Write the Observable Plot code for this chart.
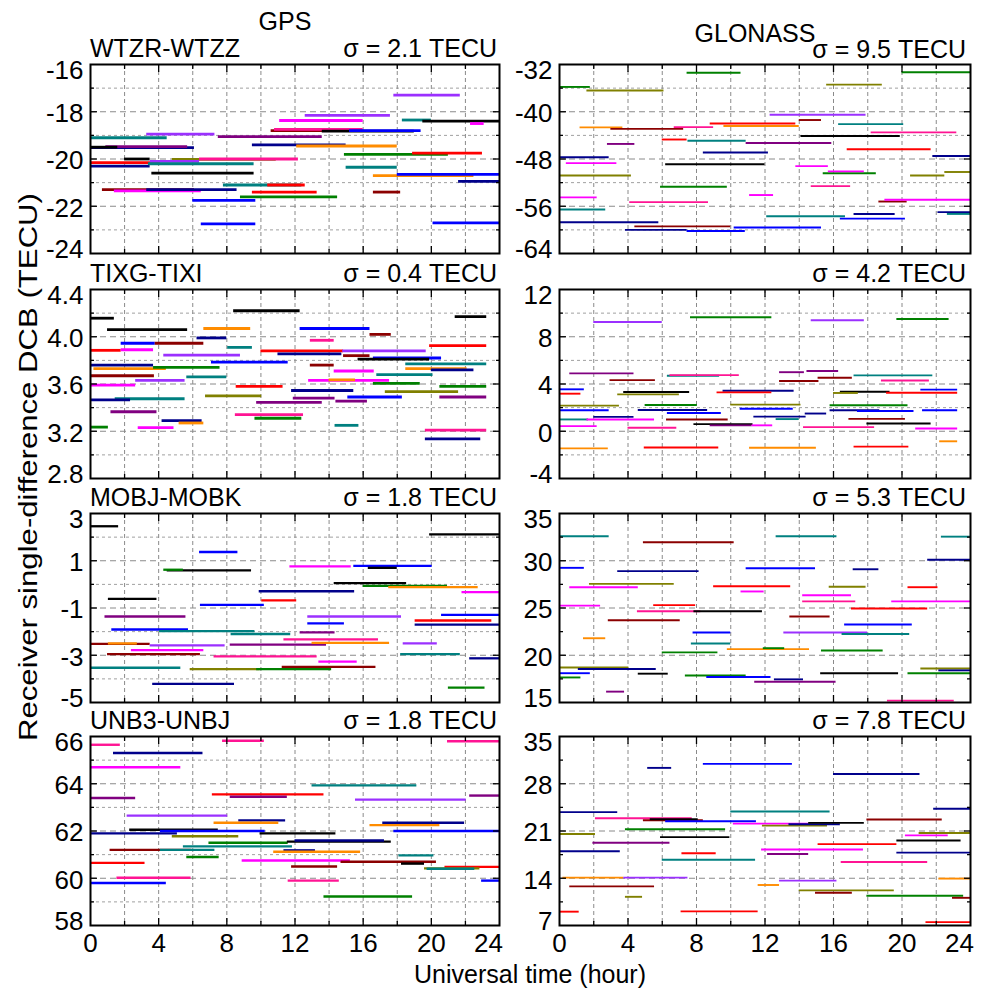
<!DOCTYPE html>
<html><head><meta charset="utf-8">
<script src="https://cdn.jsdelivr.net/npm/d3@7"></script>
<script src="https://cdn.jsdelivr.net/npm/@observablehq/plot@0.6"></script>
<style>
html,body{margin:0;padding:0;background:#fff;}
#fig{position:relative;width:981px;height:988px;overflow:hidden;background:#fff;}
#fig svg{position:absolute;}
</style></head><body><div id="fig"></div>
<script>
// Series keys: 0 red, 1 blue, 2 black, 3 green, 4 magenta, 5 teal, 6 violet,
// 7 orange, 8 maroon, 9 navy, 10 olive, 11 pink, 12 purple
const palette = ["#ff0000","#0000ff","#000000","#008000","#ff00ff","#008080","#9b30ff",
                 "#ff8c00","#8b0000","#00008b","#808000","#ff1493","#800080"];

const hourLabels = [0,4,8,12,16,20,24];
const hourMajor = [4,8,12,16,20];
const hourMinor = [2,6,10,14,18,22];
const hourGrid = [2,4,6,8,10,12,14,16,18,20,22];

// Each arc: [start hour, end hour, DCB value, series key]
const wtzr = [
[17.8,21.7,-17.3,6],[11.1,16.0,-18.37,4],[12.6,17.6,-18.15,6],[18.3,20.0,-18.35,5],
[19.5,24,-18.4,2],[22.3,23.1,-18.5,4],[10.6,13.7,-18.8,8],[10.8,16.0,-18.75,11],
[13.6,19.0,-18.82,2],[15.2,19.4,-18.8,1],[0,4.5,-19.1,5],[3.3,7.3,-18.95,6],
[7.5,13.6,-19.05,12],[9.5,15.0,-19.4,9],[12.1,18.0,-19.45,7],[0,6.1,-19.52,9],
[0.9,5.7,-19.48,12],[0,1.6,-19.5,2],[14.9,21.0,-19.8,3],[18.9,23.0,-19.75,0],
[0,4.1,-20.15,0],[2.0,3.5,-20.0,2],[0,3.5,-20.3,9],[4.8,10.9,-20.02,10],
[3.5,6.4,-20.1,6],[3.4,9.6,-20.2,5],[6.4,12.2,-20.0,11],[15.0,18.0,-20.35,5],
[3.6,9.6,-20.6,2],[16.6,22.5,-20.7,7],[18.0,24,-20.65,1],[21.6,24,-20.95,9],
[7.8,12.4,-21.1,5],[10.4,12.6,-21.1,0],[0.7,6.1,-21.3,8],[1.4,6.5,-21.35,4],
[3.3,8.6,-21.3,9],[9.5,13.3,-21.4,0],[16.6,18.2,-21.4,8],[6.0,9.7,-21.75,1],
[8.8,14.5,-21.6,3],[6.5,9.7,-22.75,1],[20.1,24,-22.7,1]
];
const glo1 = [
[7.45,10.6,-33.4,3],[20.0,24,-33.3,3],[0,1.8,-35.8,3],[1.6,6.1,-36.4,10],
[15.6,18.85,-35.4,10],[12.3,17.9,-40.5,6],[14.0,15.3,-41.4,8],[16.3,20.1,-42.1,5],
[1.2,3.7,-42.65,7],[3.0,7.25,-42.9,8],[6.7,9.0,-42.6,11],[8.8,13.8,-42.0,0],
[9.6,14.0,-42.4,7],[14.1,19.9,-44.1,2],[18.2,23.2,-43.5,11],[6.0,7.45,-44.7,0],
[7.5,10.9,-44.9,5],[10.9,15.9,-45.3,12],[2.8,4.4,-45.45,12],[16.8,21.7,-46.35,0],
[0,2.9,-47.7,9],[8.4,12.2,-46.9,9],[21.8,24,-47.5,9],[0.4,3.35,-48.7,4],
[6.2,12.0,-48.9,2],[13.8,15.7,-49.2,4],[0,4.2,-50.8,10],[15.4,18.5,-50.4,3],
[15.7,17.8,-50.1,4],[20.5,22.5,-50.8,10],[22.5,24,-50.2,10],[5.9,9.8,-52.7,3],
[14.7,17.0,-52.6,11],[11.1,12.5,-54.1,4],[0,2.2,-54.5,4],[4.1,8.7,-55.3,11],
[18.65,20.3,-55.2,8],[19.0,24,-54.9,4],[0,2.7,-56.55,5],[12.1,16.7,-57.7,5],
[17.2,19.6,-57.3,9],[16.4,20.2,-58.1,1],[22.1,24,-57.0,9],[22.65,24,-57.3,5],
[0,5.8,-58.7,9],[4.4,10.0,-59.4,8],[3.85,7.45,-60.0,9],[7.45,10.85,-60.2,1],
[10.2,15.3,-59.6,1]
];
const tixg = [
[0,1.4,4.157,2],[1.0,5.7,4.06,2],[8.4,12.3,4.22,2],[21.4,23.25,4.17,2],
[6.65,9.4,4.07,7],[12.3,16.4,4.07,1],[16.4,17.65,4.02,8],[6.25,8.0,3.99,9],
[12.9,14.3,3.97,11],[1.8,3.8,3.945,1],[3.8,6.65,3.945,8],[8.05,9.5,3.91,5],
[0,1.8,3.885,0],[1.8,3.7,3.89,4],[10.0,14.85,3.88,0],[19.9,23.25,3.925,0],
[11.0,14.75,3.855,9],[4.3,8.8,3.845,6],[14.8,19.7,3.88,6],[14.85,16.4,3.84,8],
[16.6,20.6,3.82,1],[15.7,19.9,3.81,2],[7.1,11.6,3.785,1],[0,3.7,3.76,9],
[12.9,14.3,3.76,8],[18.5,23.25,3.77,5],[0.2,4.45,3.73,7],[3.7,7.6,3.74,3],
[14.3,16.65,3.71,4],[18.5,22.1,3.73,7],[20.0,22.5,3.72,9],[16.8,20.1,3.68,5],
[0,3.75,3.67,8],[5.65,8.0,3.66,5],[2.65,5.55,3.63,6],[12.8,17.55,3.63,4],
[14.0,15.55,3.635,7],[0,2.65,3.59,4],[16.6,19.35,3.605,3],[20.5,23.25,3.58,3],
[8.55,11.3,3.58,0],[6.75,10.05,3.50,10],[17.3,21.6,3.535,10],[11.8,15.45,3.545,9],
[15.1,18.3,3.49,1],[1.45,5.55,3.475,5],[0,2.35,3.465,9],[11.9,14.35,3.48,12],
[9.75,13.6,3.445,12],[14.4,16.25,3.455,12],[20.5,23.25,3.49,12],[1.2,3.9,3.365,12],
[8.5,12.5,3.34,11],[9.65,12.4,3.31,3],[4.2,6.55,3.29,9],[5.2,6.65,3.27,7],
[14.35,15.75,3.25,5],[0,1.05,3.235,3],[2.8,4.9,3.23,4],[19.65,23.25,3.21,11],
[19.65,22.9,3.135,9]
];
const glo2 = [
[2.0,6.0,9.25,6],[7.65,12.4,9.65,3],[14.7,17.8,9.4,6],[19.7,22.75,9.5,3],
[0.6,4.35,4.9,12],[2.95,5.6,4.33,8],[6.3,9.35,4.7,5],[6.45,10.5,4.75,11],
[12.85,14.3,5.0,12],[14.45,16.3,5.1,12],[12.85,15.15,4.25,8],[15.1,17.1,4.53,8],
[17.2,21.8,4.73,5],[18.8,21.6,4.3,11],[0,1.45,3.55,1],[0,1.25,3.18,0],
[3.75,7.6,3.32,2],[3.4,7.0,3.12,10],[9.55,13.7,3.43,9],[9.2,12.4,3.29,0],
[16.4,19.3,3.35,2],[16.0,17.45,3.24,10],[19.1,23.25,3.26,0],[21.1,23.25,3.52,1],
[0,3.5,2.17,10],[5.0,8.05,2.22,3],[10.0,14.1,2.25,10],[15.8,20.35,2.2,3],
[0,2.9,1.78,1],[4.6,8.65,1.8,9],[6.3,9.45,1.55,1],[10.55,13.65,1.9,1],
[14.35,15.6,1.5,9],[15.8,18.7,1.78,9],[17.4,20.7,1.72,1],[21.2,23.25,1.78,1],
[2.0,4.35,1.22,9],[11.35,14.4,1.24,9],[0,1.7,1.0,5],[1.6,5.55,1.0,4],
[6.25,9.85,1.0,8],[12.65,14.0,1.03,5],[16.9,20.2,1.05,8],[7.85,11.3,0.6,2],
[8.8,11.25,0.5,12],[11.25,12.45,0.5,4],[17.95,21.7,0.65,2],[0,2.2,0.43,4],
[4.0,6.85,0.3,11],[14.25,18.4,0.35,11],[20.8,23.25,0.23,4],[0,2.85,-1.45,7],
[4.95,9.3,-1.37,0],[11.1,15.0,-1.4,7],[17.2,20.4,-1.3,0],[22.2,23.25,-0.85,7]
];
const mobj = [
[0,1.65,2.46,2],[19.9,24,2.12,2],[6.4,8.65,1.37,1],[4.5,9.45,0.59,2],
[4.3,5.45,0.62,3],[11.7,15.3,0.76,4],[15.45,20.05,0.78,1],[16.3,18.0,0.7,2],
[14.3,18.55,0.05,2],[16.0,20.95,-0.06,3],[17.5,22.75,-0.12,7],[21.8,24,-0.33,4],
[9.9,15.5,-0.29,9],[1.05,3.9,-0.61,2],[10.05,12.1,-0.68,0],[6.45,10.2,-0.87,1],
[0.85,5.6,-1.36,12],[12.75,18.25,-1.36,6],[20.6,24,-1.29,1],[19.05,23.55,-1.53,0],
[12.75,14.9,-1.65,1],[19.05,24,-1.7,9],[1.25,5.75,-1.91,1],[4.05,9.65,-1.98,5],
[8.25,11.75,-2.1,5],[12.3,14.35,-2.03,12],[11.35,16.9,-2.33,11],[0,3.5,-2.52,8],
[1.05,2.75,-2.5,7],[3.5,7.9,-2.58,6],[8.2,13.85,-2.55,12],[13.0,17.55,-2.48,7],
[18.35,20.35,-2.5,6],[2.4,6.65,-2.78,4],[1.0,6.45,-2.95,8],[7.25,13.3,-3.05,11],
[18.2,21.7,-2.95,5],[22.25,24,-3.13,9],[13.4,15.65,-3.27,4],[0,5.3,-3.53,5],
[5.85,9.95,-3.59,10],[9.75,14.15,-3.59,3],[11.25,16.75,-3.49,8],[3.65,8.45,-4.21,9],
[21.0,23.15,-4.37,3]
];
const glo3 = [
[0,2.9,32.6,5],[4.9,10.2,31.95,8],[12.65,16.2,32.6,5],[22.3,24,32.55,5],
[0,1.45,29.25,1],[3.4,8.15,28.9,9],[10.9,14.95,29.2,1],[17.15,18.65,29.1,9],
[21.5,24,30.1,9],[0.6,4.6,27.2,4],[1.75,6.7,27.55,10],[9.0,13.5,27.3,0],
[10.6,11.95,26.75,4],[14.2,17.05,26.35,4],[15.75,17.9,27.25,10],[20.35,22.1,27.2,0],
[14.2,17.3,25.7,11],[19.4,24,25.7,4],[0,2.4,25.25,4],[5.5,7.95,25.3,0],
[4.55,8.25,24.65,11],[7.85,11.85,24.65,2],[13.45,15.8,24.1,8],[17.05,21.5,24.95,0],
[2.85,7.05,23.7,8],[16.65,20.6,23.25,1],[7.8,10.0,22.4,1],[13.1,18.0,22.4,6],
[16.5,20.45,22.25,5],[7.7,10.0,21.25,5],[1.4,2.7,21.8,7],[9.8,14.6,20.65,7],
[11.9,13.15,20.75,3],[6.0,9.25,20.3,3],[15.3,18.9,20.5,3],[0,4.05,18.7,10],
[1.1,5.65,18.55,9],[0,1.8,18.1,1],[0,1.25,17.65,3],[4.6,6.35,18.05,2],
[7.35,10.9,17.85,3],[8.6,12.35,17.7,1],[12.55,14.25,17.45,9],[11.4,16.15,17.2,12],
[15.25,19.8,18.1,2],[21.1,24,18.6,10],[20.35,24,18.1,3],[22.15,24,18.4,9],
[2.75,3.8,16.15,12],[19.15,23.05,15.2,11]
];
const unb3 = [
[0,1.75,65.65,11],[7.75,10.2,65.82,11],[20.95,24,65.8,11],[1.35,6.6,65.3,9],
[0,5.3,64.7,4],[13.0,19.15,63.93,5],[0,2.65,63.4,12],[7.15,13.7,63.55,0],
[8.2,11.55,63.45,12],[15.55,22.05,63.33,6],[22.25,24,63.5,12],[2.15,8.05,62.65,6],
[8.7,11.45,62.45,9],[7.25,11.05,62.35,7],[17.15,21.95,62.35,9],[16.4,20.5,62.25,7],
[2.3,7.5,62.05,2],[0,5.1,61.9,9],[4.1,10.25,62.0,1],[17.8,24,62.0,1],
[9.95,14.4,61.9,2],[4.8,8.7,61.78,10],[6.95,11.6,61.5,3],[11.55,17.65,61.55,2],
[12.0,17.25,61.6,9],[5.45,11.85,61.35,5],[1.15,5.95,61.2,8],[4.1,7.3,61.2,5],
[11.35,13.2,61.18,9],[10.75,15.85,61.12,7],[5.65,7.55,60.9,3],[18.1,20.15,60.97,5],
[8.9,15.25,60.75,4],[0,3.2,60.65,0],[14.7,20.3,60.7,8],[18.25,19.6,60.62,2],
[11.8,14.5,60.5,8],[20.8,24,60.48,0],[19.6,22.85,60.42,10],[19.75,22.55,60.4,5],
[1.55,5.9,60.02,11],[0,4.45,59.8,1],[11.6,14.6,59.9,11],[22.95,24,59.9,1],
[13.7,18.9,59.23,3]
];
const glo4 = [
[5.15,6.55,30.35,9],[8.4,13.6,30.95,1],[16.0,21.05,29.45,9],[0,3.4,23.8,9],
[10.0,15.8,23.9,5],[21.85,24,24.3,9],[2.1,7.75,22.9,11],[4.9,8.4,22.6,8],
[5.3,8.1,22.75,2],[6.2,11.5,22.45,1],[10.15,14.55,22.1,4],[11.85,15.65,21.8,10],
[13.4,16.4,22.0,9],[14.55,17.8,22.2,2],[17.95,22.35,22.7,8],[3.85,9.7,21.25,3],
[0,2.1,20.55,10],[5.9,9.95,20.1,2],[20.2,22.7,20.35,4],[21.0,24,20.7,10],
[19.7,23.45,19.6,2],[1.95,6.45,19.25,12],[15.1,19.7,19.05,0],[0,3.55,18.0,9],
[7.15,9.15,17.7,0],[11.8,17.75,18.25,4],[12.15,14.55,17.6,12],[19.7,24,17.8,9],
[6.0,11.45,16.75,5],[16.45,21.5,16.4,11],[0.2,3.75,14.1,7],[3.75,7.5,14.1,6],
[22.15,24,13.95,7],[12.85,16.2,13.65,6],[0.6,5.55,12.8,8],[11.6,12.85,13.0,7],
[14.0,19.55,12.2,10],[14.95,17.1,11.85,8],[17.95,23.6,11.4,3],[22.95,24,11.1,8],
[3.85,4.85,11.25,10],[0,1.15,9.05,0],[7.1,11.6,9.1,0],[21.4,24,7.5,0]
];

// Tick values per panel
const wtzrMajor = [-24,-22,-20,-18,-16], wtzrMinor = [-23,-21,-19,-17];
const glo1Major = [-64,-56,-48,-40,-32], glo1Minor = [-60,-52,-44,-36];
const tixgMajor = [2.8,3.2,3.6,4.0,4.4], tixgMinor = [3.0,3.4,3.8,4.2];
const glo2Major = [-4,0,4,8,12], glo2Minor = [-2,2,6,10];
const mobjMajor = [-5,-3,-1,1,3], mobjMinor = [-4,-2,0,2];
const glo3Major = [15,20,25,30,35], glo3Minor = [17.5,22.5,27.5,32.5];
const unb3Major = [58,60,62,64,66], unb3Minor = [59,61,63,65];
const glo4Major = [7,14,21,28,35], glo4Minor = [10.5,17.5,24.5,31.5];

const titles = [
  ["WTZR-WTZZ","σ = 2.1 TECU","σ = 9.5 TECU"],
  ["TIXG-TIXI","σ = 0.4 TECU","σ = 4.2 TECU"],
  ["MOBJ-MOBK","σ = 1.8 TECU","σ = 5.3 TECU"],
  ["UNB3-UNBJ","σ = 1.8 TECU","σ = 7.8 TECU"]
];

const FONT = '"Liberation Sans", Arial, Helvetica, sans-serif';
const fig = document.getElementById("fig");
const rowTop = [64, 289, 513, 736];
const PH = 189;
const colLeft = [90, 559], colW = [409, 411];
const TICKFS = 26;

function panel({data, major, minor, minorGrid, fmt, col, row, sw}) {
  const bottom = row === 3;
  const ml = 64, mr = 14, mt = 10, mb = bottom ? 50 : 10;
  const lo = major[0], hi = major[major.length - 1];
  const inner = major.slice(1, -1);
  const noText = () => "";
  const tickOpts = {tickFormat: noText, label: null, stroke: "#000", strokeWidth: 1.3};
  const lab = {tickSize: 0, label: null, fill: "#000", fontSize: TICKFS};
  const marks = [
    minorGrid ? Plot.ruleY(minor, {stroke: "#a0a0a0", strokeDasharray: "3,3", strokeWidth: 1}) : null,
    Plot.ruleY(inner, {stroke: "#8a8a8a", strokeDasharray: "6,4", strokeWidth: 1}),
    Plot.ruleX(hourGrid, {stroke: "#8a8a8a", strokeDasharray: "4,3", strokeWidth: 1}),
    Plot.ruleY(data, {x1: d => d[0], x2: d => d[1], y: d => d[2], stroke: d => d[3], strokeWidth: sw}),
    Plot.axisY(inner, {anchor: "left", tickSize: -7, ...tickOpts}),
    Plot.axisY(inner, {anchor: "right", tickSize: -7, ...tickOpts}),
    Plot.axisY(minor, {anchor: "left", tickSize: -4, ...tickOpts}),
    Plot.axisY(minor, {anchor: "right", tickSize: -4, ...tickOpts}),
    Plot.axisX(hourMajor, {anchor: "top", tickSize: -7, ...tickOpts}),
    Plot.axisX(hourMinor, {anchor: "top", tickSize: -4, ...tickOpts}),
    Plot.axisX(hourMajor, {anchor: "bottom", tickSize: -7, ...tickOpts}),
    Plot.axisX(hourMinor, {anchor: "bottom", tickSize: -4, ...tickOpts}),
    Plot.axisY(inner, {anchor: "left", tickPadding: 7, tickFormat: fmt, dy: 2, ...lab}),
    Plot.axisY([hi], {anchor: "left", tickPadding: 7, tickFormat: fmt, dy: 6, ...lab}),
    Plot.axisY([lo], {anchor: "left", tickPadding: 7, tickFormat: fmt, dy: -4, ...lab}),
    bottom ? Plot.axisX(hourLabels.slice(0, -1), {anchor: "bottom", tickPadding: 8, ...lab}) : null,
    bottom ? Plot.axisX([24], {anchor: "bottom", tickPadding: 8, dx: -11, ...lab}) : null,
    Plot.frame({stroke: "#000", strokeWidth: 2})
  ];
  const svg = Plot.plot({
    width: ml + colW[col] + mr,
    height: mt + PH + mb,
    marginLeft: ml, marginRight: mr, marginTop: mt, marginBottom: mb,
    x: {domain: [0, 24]},
    y: {domain: [lo, hi]},
    color: {type: "ordinal", domain: palette.map((_, i) => i), range: palette},
    style: {fontFamily: FONT, fontSize: TICKFS + "px", background: "transparent", overflow: "visible", color: "#000"},
    marks
  });
  svg.style.left = (colLeft[col] - ml) + "px";
  svg.style.top = (rowTop[row] - mt) + "px";
  svg.style.maxWidth = "none";
  fig.appendChild(svg);
}

const f1 = d3.format(".1f"), fi = d => String(d);
panel({data: wtzr, major: wtzrMajor, minor: wtzrMinor, minorGrid: true, fmt: fi, col: 0, row: 0, sw: 2.8});
panel({data: glo1, major: glo1Major, minor: glo1Minor, minorGrid: true, fmt: fi, col: 1, row: 0, sw: 1.9});
panel({data: tixg, major: tixgMajor, minor: tixgMinor, minorGrid: true, fmt: f1, col: 0, row: 1, sw: 2.8});
panel({data: glo2, major: glo2Major, minor: glo2Minor, minorGrid: true, fmt: fi, col: 1, row: 1, sw: 1.9});
panel({data: mobj, major: mobjMajor, minor: mobjMinor, minorGrid: true, fmt: fi, col: 0, row: 2, sw: 2.3});
panel({data: glo3, major: glo3Major, minor: glo3Minor, minorGrid: false, fmt: fi, col: 1, row: 2, sw: 1.9});
panel({data: unb3, major: unb3Major, minor: unb3Minor, minorGrid: true, fmt: fi, col: 0, row: 3, sw: 2.4});
panel({data: glo4, major: glo4Major, minor: glo4Minor, minorGrid: false, fmt: fi, col: 1, row: 3, sw: 1.9});

// Text overlay
const ns = "http://www.w3.org/2000/svg";
const ov = document.createElementNS(ns, "svg");
ov.setAttribute("width", 981); ov.setAttribute("height", 988);
ov.style.left = "0px"; ov.style.top = "0px"; ov.style.pointerEvents = "none";
ov.setAttribute("font-family", FONT);
function txt(s, x, y, size, anchor, extra) {
  const t = document.createElementNS(ns, "text");
  t.textContent = s;
  t.setAttribute("x", x); t.setAttribute("y", y);
  t.setAttribute("font-size", size);
  t.setAttribute("text-anchor", anchor);
  t.setAttribute("fill", "#000");
  if (extra) for (const k in extra) t.setAttribute(k, extra[k]);
  ov.appendChild(t);
  return t;
}
txt("GPS", 285, 30, 25, "middle");
txt("GLONASS", 755, 42, 25, "middle");
titles.forEach((r, i) => {
  const base = rowTop[i] - 7;
  txt(r[0], 90, base, 25, "start");
  txt(r[1], 497, base, 25, "end");
  txt(r[2], 966, base + (i === 0 ? 1 : 0), 25, "end");
});
txt("Receiver single-difference DCB (TECU)", 0, 0, 25, "middle",
    {transform: "translate(37,467) rotate(-90)", textLength: 548, lengthAdjust: "spacingAndGlyphs"});
txt("Universal time (hour)", 530, 983, 25, "middle");
fig.appendChild(ov);
</script></body></html>
